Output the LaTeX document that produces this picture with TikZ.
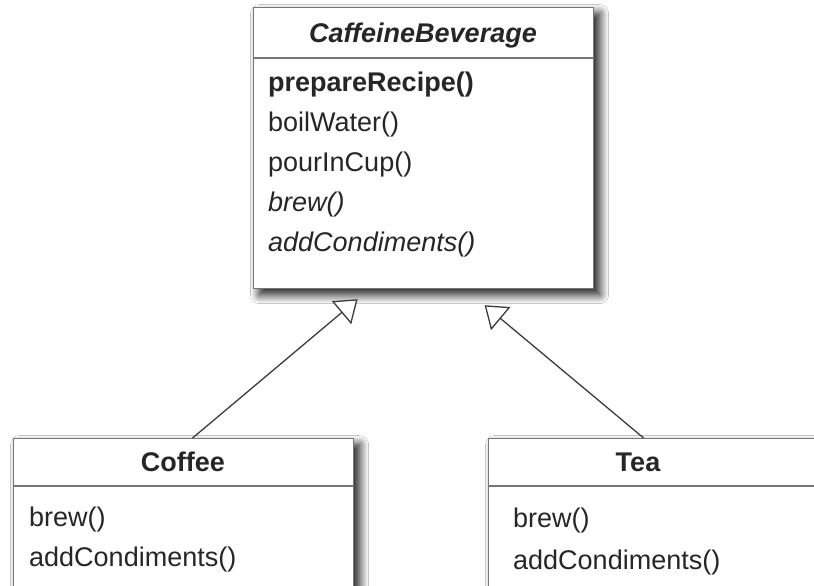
\documentclass[tikz,border=0pt]{standalone}
\usepackage{fontspec}
\setmainfont{Liberation Sans}
\usetikzlibrary{positioning,arrows.meta,shadows.blur}
\definecolor{boxgray}{HTML}{777777}
\definecolor{inkgray}{HTML}{262626}
\definecolor{linegray}{HTML}{3C3C3C}
\newcommand{\umlfont}{\fontsize{27pt}{32pt}\selectfont}
\tikzset{
  classbox/.style={draw=boxgray,line width=1.2pt,fill=white,inner sep=0pt,anchor=north west,
    blur shadow={shadow xshift=6pt,shadow yshift=-6pt,shadow blur radius=9pt,
      shadow blur steps=16,shadow opacity=95}},
  classname/.style={font=\umlfont\bfseries,text=inkgray,anchor=base,inner sep=0pt},
  op/.style={font=\umlfont,text=inkgray,anchor=base west,inner sep=0pt},
  divider/.style={draw=boxgray,line width=1.2pt},
  inherit/.style={draw=linegray,line width=1.3pt,-{Triangle[length=21pt,width=30pt,fill=white]}}
}

\begin{document}
\begin{tikzpicture}[x=1pt,y=1pt]
  \useasboundingbox[fill=white] (0,0) rectangle (814,586);
  % abstract superclass
  \node[classbox,minimum width=340pt,minimum height=281pt] (bev) at (253,579) {};
  \draw[divider] ([yshift=-51pt]bev.north west) -- ([yshift=-51pt]bev.north east);
  \node[classname] (bevname) at (423,543) {\itshape CaffeineBeverage};
  \node[op] (bevop1) at (268,494) {\bfseries prepareRecipe()};
  \node[op] (bevop2) at (268,454) {boilWater()};
  \node[op] (bevop3) at (268,414) {pourInCup()};
  \node[op] (bevop4) at (268,374) {\itshape brew()};
  \node[op] (bevop5) at (268,334) {\itshape addCondiments()};
  % Coffee
  \node[classbox,minimum width=340pt,minimum height=190pt] (coffee) at (13,148) {};
  \draw[divider] ([yshift=-48pt]coffee.north west) -- ([yshift=-48pt]coffee.north east);
  \node[classname] (coffeename) at (183,114) {Coffee};
  \node[op] (coffeeop1) at (29,59) {brew()};
  \node[op] (coffeeop2) at (29,19) {addCondiments()};
  % Tea
  \node[classbox,minimum width=340pt,minimum height=190pt] (tea) at (488,148) {};
  \draw[divider] ([yshift=-48pt]tea.north west) -- ([yshift=-48pt]tea.north east);
  \node[classname] (teaname) at (638,114) {Tea};
  \node[op] (teaop1) at (513,58) {brew()};
  \node[op] (teaop2) at (513,16) {addCondiments()};
  % generalisation arrows
  \coordinate (tipL) at ([xshift=-66pt,yshift=-10pt]bev.south);
  \coordinate (tipR) at ([xshift=61pt,yshift=-16pt]bev.south);
  \draw[inherit] ([xshift=9pt]coffee.north) -- (tipL);
  \draw[inherit] ([xshift=-15pt]tea.north) -- (tipR);
\end{tikzpicture}
\end{document}
